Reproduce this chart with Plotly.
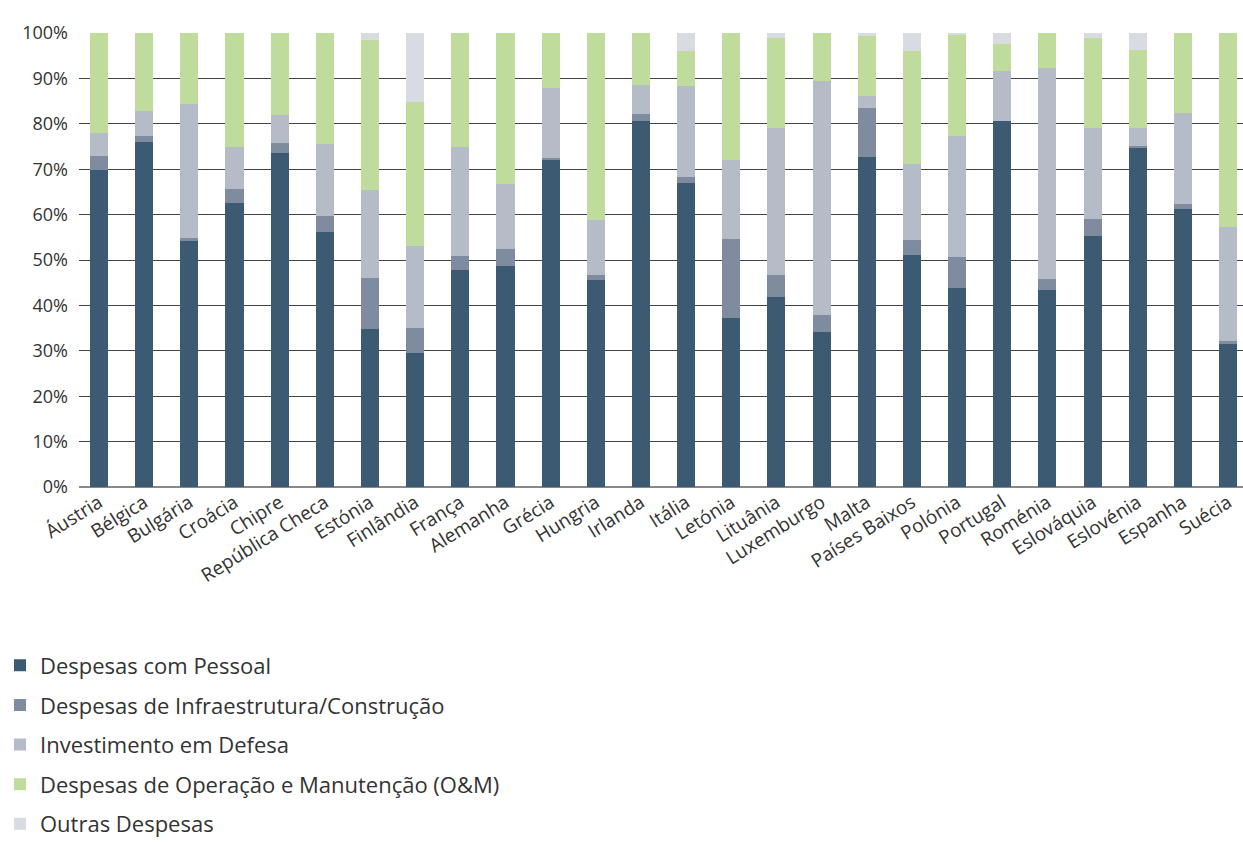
import plotly.graph_objects as go

# Composição da despesa de defesa por país (% do total)
paises = ["Áustria", "Bélgica", "Bulgária", "Croácia", "Chipre", "República Checa",
          "Estónia", "Finlândia", "França", "Alemanha", "Grécia", "Hungria", "Irlanda",
          "Itália", "Letónia", "Lituânia", "Luxemburgo", "Malta", "Países Baixos",
          "Polónia", "Portugal", "Roménia", "Eslováquia", "Eslovénia", "Espanha", "Suécia"]

pessoal = [69.8, 75.9, 54.4, 62.5, 73.5, 56.1, 34.8, 29.5, 47.8, 48.6, 72.0, 45.6, 80.6,
           66.9, 37.2, 41.8, 34.1, 72.6, 51.1, 43.8, 80.6, 43.4, 55.2, 74.8, 61.2, 31.7]
infraestrutura = [3.1, 1.4, 0.4, 3.1, 2.2, 3.5, 11.2, 5.5, 3.0, 3.8, 0.5, 1.1, 1.5,
                  1.3, 17.4, 4.9, 3.8, 10.8, 3.3, 6.8, 0.0, 2.4, 3.8, 0.3, 1.1, 0.4]
investimento = [5.0, 5.5, 29.5, 9.2, 6.2, 15.9, 19.4, 18.0, 24.0, 14.3, 15.3, 12.1, 6.4,
                20.1, 17.4, 32.3, 51.5, 2.7, 16.7, 26.7, 11.0, 46.4, 20.0, 3.9, 20.0, 25.1]
operacao = [22.1, 17.2, 15.7, 25.2, 18.1, 24.5, 33.0, 31.7, 25.2, 33.3, 12.2, 41.2, 11.5,
            7.7, 28.0, 20.0, 10.6, 13.2, 24.9, 22.2, 5.9, 7.8, 19.8, 17.2, 17.7, 42.8]
outras = [0.0, 0.0, 0.0, 0.0, 0.0, 0.0, 1.6, 15.3, 0.0, 0.0, 0.0, 0.0, 0.0,
          4.0, 0.0, 1.0, 0.0, 0.7, 4.0, 0.5, 2.5, 0.0, 1.2, 3.8, 0.0, 0.0]

series = [
    ("Despesas com Pessoal", pessoal, "#3d5a73"),
    ("Despesas de Infraestrutura/Construção", infraestrutura, "#7f8b9e"),
    ("Investimento em Defesa", investimento, "#b5bbc7"),
    ("Despesas de Operação e Manutenção (O&M)", operacao, "#bfdc9c"),
    ("Outras Despesas", outras, "#d8dbe2"),
]

FONT = "Open Sans"
TEXT = "#333333"

fig = go.Figure()
for i, (nome, valores, cor) in enumerate(series):
    fig.add_trace(go.Bar(
        name=nome, x=paises, y=[v / 100 for v in valores],
        marker=dict(color=cor, line=dict(width=0)),
        legendgroup=f"g{i}",
    ))

fig.update_layout(
    barmode="stack",
    bargap=0.6,
    width=1243, height=842,
    margin=dict(l=79, r=0, t=33, b=355, autoexpand=False),
    paper_bgcolor="white", plot_bgcolor="white",
    font=dict(family=FONT, color=TEXT, size=18),
    showlegend=True,
    legend=dict(
        xref="container", yref="container",
        x=0.0, y=0.2345, xanchor="left", yanchor="top",
        orientation="v", traceorder="grouped",
        font=dict(family=FONT, size=22, color=TEXT),
        tracegroupgap=8, itemwidth=30,
        bgcolor="rgba(0,0,0,0)",
    ),
)

fig.update_xaxes(
    type="category", range=[-0.443, 25.33],
    tickangle=-32, tickfont=dict(size=19, family=FONT, color=TEXT),
    showgrid=False, showline=False, ticks="", ticklen=0,
)
fig.update_yaxes(
    range=[0, 1.0], tickformat=".0%", dtick=0.1,
    tickfont=dict(size=18, family=FONT, color=TEXT),
    showgrid=True, gridcolor="#444444", gridwidth=1,
    zeroline=True, zerolinecolor="#888888", zerolinewidth=2,
    showline=False, ticks="", ticklabelstandoff=10,
)

fig.write_html("out.html")
